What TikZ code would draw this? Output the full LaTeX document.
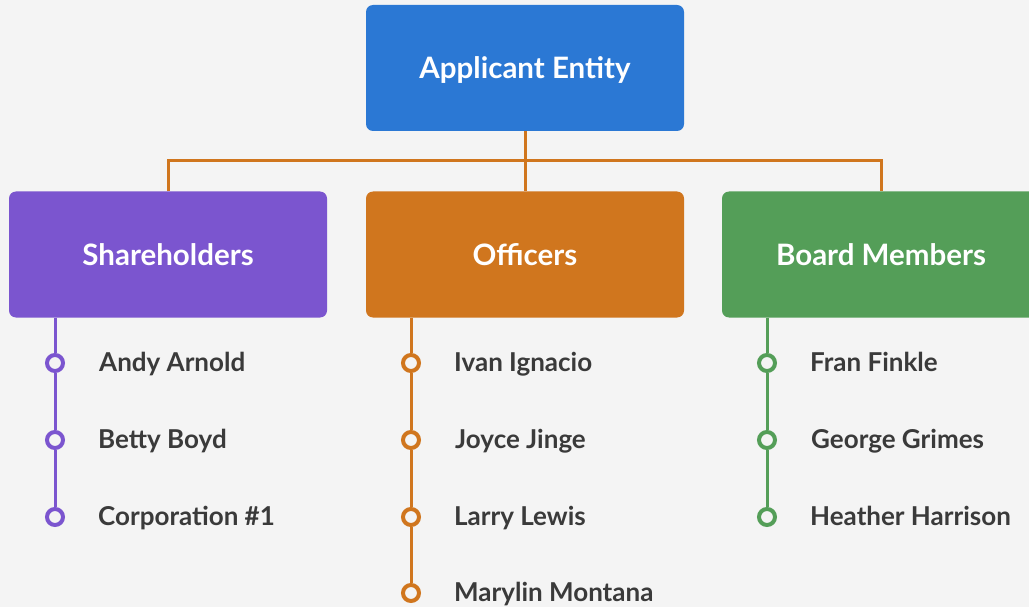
\documentclass[tikz,border=0pt]{standalone}
\usepackage{fontspec}
\setmainfont{Lato}
\definecolor{bg}{HTML}{F4F4F4}
\definecolor{cblue}{HTML}{2B78D4}
\definecolor{cpurple}{HTML}{7B55CF}
\definecolor{corange}{HTML}{D0761E}
\definecolor{cgreen}{HTML}{549E58}
\definecolor{ctext}{HTML}{3A3A3A}
\tikzset{
  catbox/.style={rectangle, rounded corners=7pt, minimum width=318pt, minimum height=126pt, inner sep=0pt,
    text depth=0pt, text=white, font=\fontsize{29.5}{32}\selectfont\bfseries},
  itemdot/.style={circle, draw=#1, line width=4pt, fill=bg, minimum size=16pt, inner sep=0pt},
  itemname/.style={anchor=west, inner sep=0pt, text depth=0pt, text=ctext, font=\fontsize{26}{30}\selectfont\bfseries},
  itemlink/.style={draw=#1, line width=3pt}
}
\begin{document}
\begin{tikzpicture}[x=1pt,y=-1pt]
\useasboundingbox (0,0) rectangle (1029,607);
\clip (0,0) rectangle (1029,607);
\fill[bg] (0,0) rectangle (1029,607);
\node[catbox, fill=cblue] (app) at (525,68) {Applicant Entity};
\node[catbox, fill=cpurple] (sh) at (168,254.5) {Shareholders};
\node[catbox, fill=corange] (of) at (525,254.5) {Officers};
\node[catbox, fill=cgreen] (bm) at (881,254.5) {Board Members};
\coordinate (mid) at (525,161);
\draw[itemlink=corange] (app.south) -- (mid);
\draw[itemlink=corange] (sh.north) |- (mid) -| (bm.north);
\draw[itemlink=corange] (mid) -- (of.north);
% Shareholders
\node[itemdot=cpurple] (s1) at (55,363) {};
\node[itemdot=cpurple] (s2) at (55,440) {};
\node[itemdot=cpurple] (s3) at (55,517) {};
\draw[itemlink=cpurple] (sh.south -| s1) -- (s1);
\draw[itemlink=cpurple] (s1) -- (s2);
\draw[itemlink=cpurple] (s2) -- (s3);
\node[itemname] (n1) at (99,362) {Andy Arnold};
\node[itemname] (n2) at (98,439) {Betty Boyd};
\node[itemname] (n3) at (98,516) {Corporation \#1};
% Officers
\node[itemdot=corange] (o1) at (411,363) {};
\node[itemdot=corange] (o2) at (411,440) {};
\node[itemdot=corange] (o3) at (411,517) {};
\node[itemdot=corange] (o4) at (411,593) {};
\draw[itemlink=corange] (of.south -| o1) -- (o1);
\draw[itemlink=corange] (o1) -- (o2);
\draw[itemlink=corange] (o2) -- (o3);
\draw[itemlink=corange] (o3) -- (o4);
\node[itemname] (m1) at (454,362) {Ivan Ignacio};
\node[itemname] (m2) at (455,439) {Joyce Jinge};
\node[itemname] (m3) at (454,516) {Larry Lewis};
\node[itemname] (m4) at (454,592) {Marylin Montana};
% Board
\node[itemdot=cgreen] (b1) at (767,363) {};
\node[itemdot=cgreen] (b2) at (767,440) {};
\node[itemdot=cgreen] (b3) at (767,517) {};
\draw[itemlink=cgreen] (bm.south -| b1) -- (b1);
\draw[itemlink=cgreen] (b1) -- (b2);
\draw[itemlink=cgreen] (b2) -- (b3);
\node[itemname] (k1) at (810,362) {Fran Finkle};
\node[itemname] (k2) at (811,439) {George Grimes};
\node[itemname] (k3) at (810,516) {Heather Harrison};
\end{tikzpicture}
\end{document}
